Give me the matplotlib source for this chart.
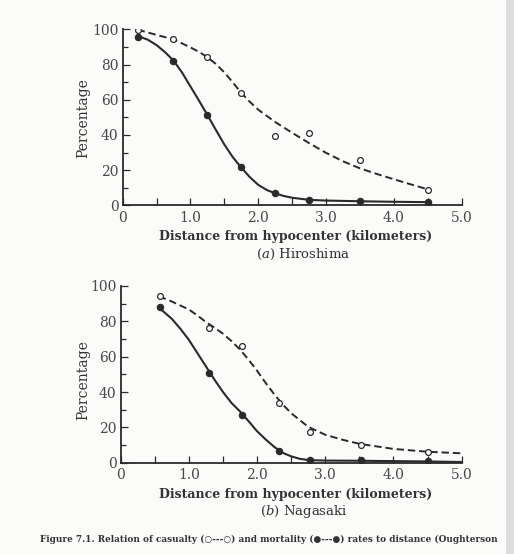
import matplotlib
matplotlib.use("Agg")
import matplotlib.pyplot as plt
from matplotlib.ticker import MultipleLocator, FixedLocator
from matplotlib.patches import Rectangle

# ---------------- data ----------------
# (a) Hiroshima - observed points
hir_dist = [0.22, 0.74, 1.24, 1.74, 2.25, 2.75, 3.5, 4.5]
hir_casualty = [99.5, 94.7, 84, 64, 39.5, 41.3, 26, 8.7]
hir_mortality = [95.8, 82.2, 51.1, 21.6, 6.8, 3.0, 2.3, 1.6]

# (a) Hiroshima - fitted curves
hir_cas_curve_x = [0.22, 0.5, 0.75, 1.0, 1.125, 1.25, 1.375, 1.5, 1.625, 1.75, 1.875,
                   2.0, 2.25, 2.5, 2.75, 3.0, 3.25, 3.5, 3.75, 4.0, 4.25, 4.5]
hir_cas_curve_y = [99.8, 96.8, 94.3, 89.7, 87.2, 84.1, 80.3, 75.5, 69.8, 63.8, 58.8,
                   54.3, 47.3, 41.2, 35.3, 29.8, 25.0, 21.0, 17.8, 14.8, 11.9, 9.1]
hir_mor_curve_x = [0.22, 0.375, 0.5, 0.625, 0.75, 0.875, 1.0, 1.125, 1.25, 1.375, 1.5,
                   1.625, 1.75, 1.875, 2.0, 2.125, 2.25, 2.375, 2.5, 2.75, 3.0, 3.5,
                   4.0, 4.5]
hir_mor_curve_y = [96.3, 94.0, 91.0, 87.0, 82.2, 75.5, 67.5, 59.5, 51.3, 42.8, 34.5,
                   27.3, 21.4, 16.0, 11.6, 8.7, 6.8, 5.3, 4.3, 3.1, 2.7, 2.3,
                   2.0, 1.8]

# (b) Nagasaki - observed points
nag_dist = [0.57, 1.29, 1.78, 2.32, 2.77, 3.52, 4.5]
nag_casualty = [94.3, 76, 66, 33.6, 17.2, 10.2, 6.0]
nag_mortality = [88, 51, 27, 6.6, 1.3, 1.3, 0.8]

# (b) Nagasaki - fitted curves
nag_cas_curve_x = [0.56, 0.75, 1.0, 1.125, 1.25, 1.375, 1.5, 1.625, 1.75, 1.875, 2.0,
                   2.125, 2.25, 2.375, 2.5, 2.75, 3.0, 3.25, 3.5, 4.0, 4.5, 5.0]
nag_cas_curve_y = [94.2, 91.2, 86.7, 83.3, 79.6, 76.4, 73.0, 68.8, 64.0, 58.3, 52.0,
                   45.2, 38.8, 33.0, 28.0, 20.3, 15.8, 13.0, 10.7, 7.8, 6.2, 5.3]
nag_mor_curve_x = [0.55, 0.75, 0.875, 1.0, 1.125, 1.25, 1.375, 1.5, 1.625, 1.75, 1.875,
                   2.0, 2.125, 2.25, 2.375, 2.5, 2.625, 2.75, 3.0, 3.5, 4.0, 4.5, 5.0]
nag_mor_curve_y = [88.1, 81.4, 75.8, 69.5, 62.0, 54.5, 47.0, 40.0, 33.8, 29.0, 23.5,
                   17.8, 13.2, 9.0, 5.6, 3.6, 2.2, 1.5, 1.2, 1.1, 0.9, 0.7, 0.4]

x_ticks = [0, 1, 2, 3, 4, 5]
x_ticklabels = ["0", "1.0", "2.0", "3.0", "4.0", "5.0"]
y_ticks = [0, 20, 40, 60, 80, 100]
y_ticklabels = ["0", "20", "40", "60", "80", "100"]

xlabel = "Distance from hypocenter (kilometers)"
ylabel = "Percentage"
subtitles = ["($\\mathit{a}$) Hiroshima", "($\\mathit{b}$) Nagasaki"]
caption = ("Figure 7.1. Relation of casualty (\u25cb---\u25cb) and mortality "
           "(\u25cf---\u25cf) rates to distance (Oughterson")

# ---------------- figure ----------------
SERIF = ["DejaVu Serif", "DejaVu Sans"]
plt.rcParams["font.family"] = SERIF
plt.rcParams["mathtext.fontset"] = "dejavuserif"
INK = "#2a2a2a"

fig = plt.figure(figsize=(5.14, 5.54), dpi=100)
fig.patch.set_facecolor("#fbfbfa")

# page-edge shadow on the right
fig.add_artist(Rectangle((0.984, 0.0), 0.02, 1.0, transform=fig.transFigure,
                         facecolor="#dedede", edgecolor="none", zorder=0))

ax_specs = [
    (0.2387, 0.6294, 0.6595, 0.3177),
    (0.2348, 0.1648, 0.6634, 0.3190),
]
panels = [
    (hir_dist, hir_casualty, hir_mortality,
     hir_cas_curve_x, hir_cas_curve_y, hir_mor_curve_x, hir_mor_curve_y),
    (nag_dist, nag_casualty, nag_mortality,
     nag_cas_curve_x, nag_cas_curve_y, nag_mor_curve_x, nag_mor_curve_y),
]

label_y = [(0.573, 0.540), (0.107, 0.076)]
ylabel_pos = [0.787, 0.314]

for i, (rect, data) in enumerate(zip(ax_specs, panels)):
    d, cas, mor, ccx, ccy, cmx, cmy = data
    ax = fig.add_axes(rect)
    ax.set_facecolor("none")
    ax.plot(ccx, ccy, color=INK, lw=1.4, ls=(0, (3.8, 2.0)), zorder=2,
            solid_joinstyle="round", dash_joinstyle="round")
    ax.plot(cmx, cmy, color=INK, lw=1.5, ls="-", zorder=2, solid_joinstyle="round")
    ax.plot(d, cas, ls="none", marker="o", ms=4.2, mfc="white", mec=INK, mew=0.9, zorder=3)
    ax.plot(d, mor, ls="none", marker="o", ms=4.6, mfc=INK, mec=INK, mew=0.8, zorder=3)

    ax.set_xlim(0, 5.0)
    ax.set_ylim(0, 100)
    ax.spines["top"].set_visible(False)
    ax.spines["right"].set_visible(False)
    for s in ("left", "bottom"):
        ax.spines[s].set_linewidth(1.3)
        ax.spines[s].set_color(INK)
    ax.xaxis.set_major_locator(FixedLocator(x_ticks))
    ax.set_xticklabels(x_ticklabels)
    ax.xaxis.set_minor_locator(MultipleLocator(0.5))
    ax.yaxis.set_major_locator(FixedLocator(y_ticks))
    ax.set_yticklabels(y_ticklabels)
    ax.yaxis.set_minor_locator(MultipleLocator(10))
    ax.tick_params(axis="both", which="both", direction="in", color=INK, width=0.9)
    ax.tick_params(axis="x", which="major", length=5, pad=4, labelsize=10, labelcolor="#484848")
    ax.tick_params(axis="x", which="minor", length=5)
    ax.tick_params(axis="y", which="major", length=5, pad=3, labelsize=10, labelcolor="#484848")
    ax.tick_params(axis="y", which="minor", length=3.5)

    fig.text(0.1615, ylabel_pos[i], ylabel, rotation=90, ha="center", va="center",
             fontsize=10, color="#333333")
    fig.text(0.575, label_y[i][0], xlabel, ha="center", va="center", fontsize=9,
             fontweight="bold", color="#333333")
    fig.text(0.590, label_y[i][1], subtitles[i], ha="center", va="center", fontsize=9.5,
             color="#333333")

fig.text(0.078, 0.027, caption, ha="left", va="center", fontsize=6.4,
         fontweight="bold", color="#333333", family=["DejaVu Serif", "DejaVu Sans"],
         zorder=5)

fig.savefig("out.png", dpi=100, facecolor=fig.get_facecolor())
